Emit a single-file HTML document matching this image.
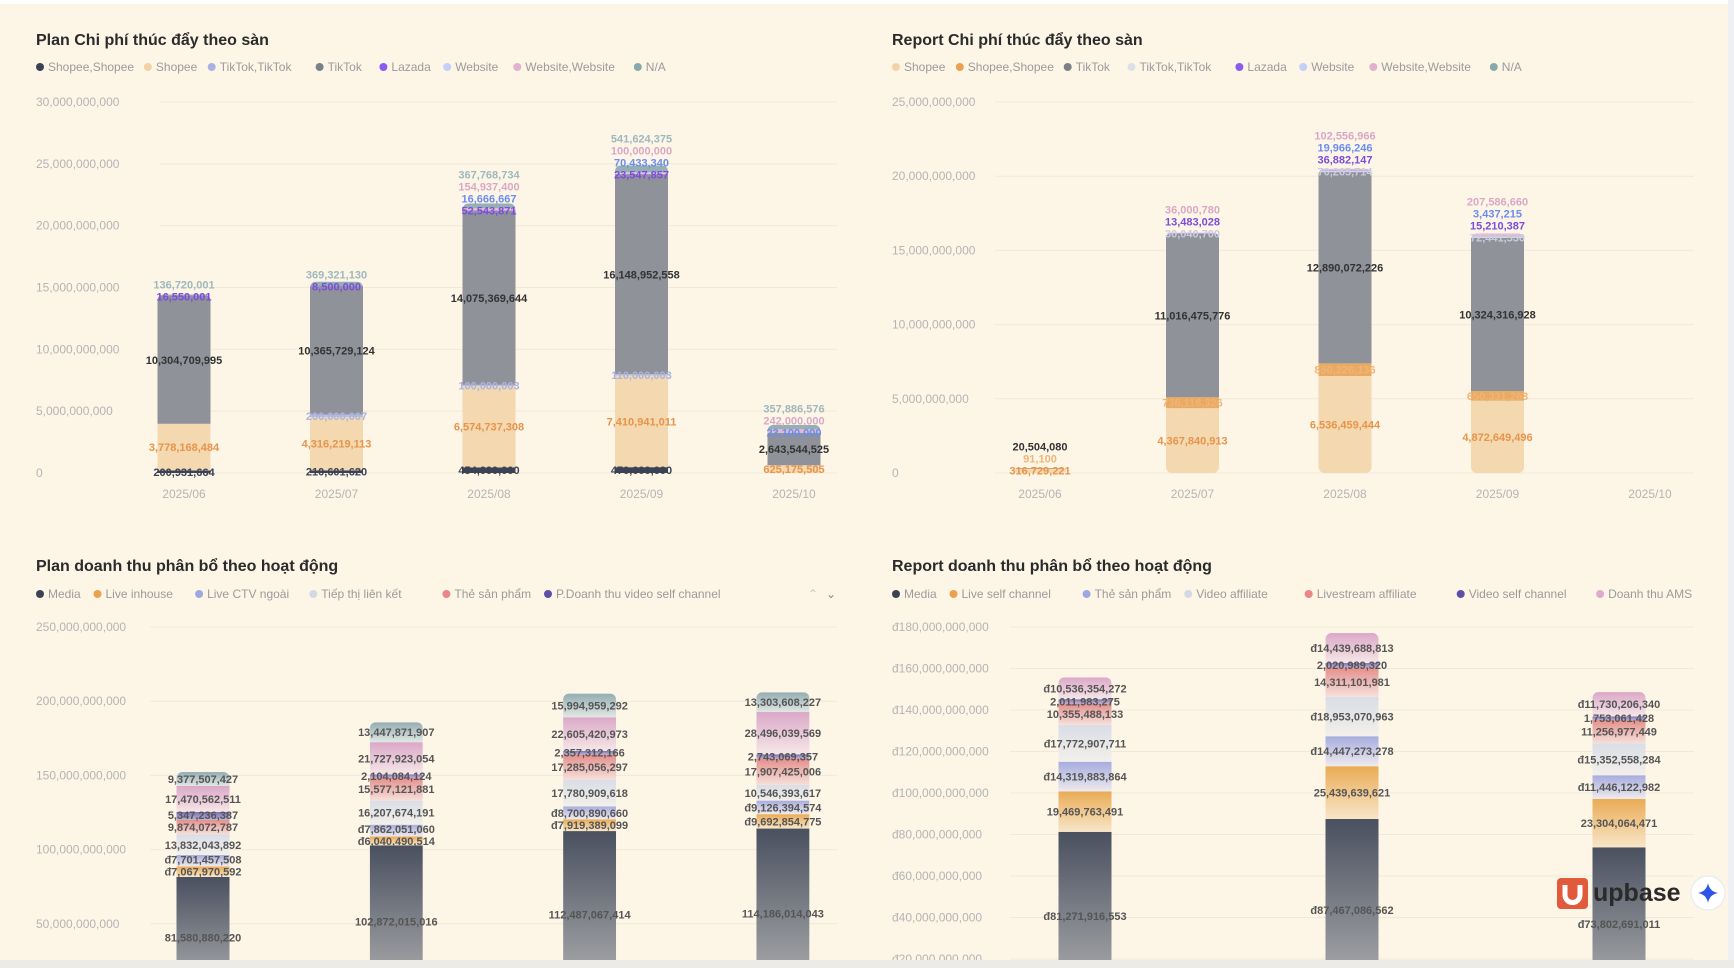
<!DOCTYPE html>
<html><head><meta charset="utf-8">
<style>
html,body{margin:0;padding:0;background:#fdf6e7;}
body{width:1734px;height:968px;overflow:hidden;position:relative;font-family:"Liberation Sans","Noto Sans CJK SC",sans-serif;}
svg{position:absolute;left:0;top:0;}
</style></head>
<body>
<svg id="chart" width="1734" height="968" viewBox="0 0 1734 968" xmlns="http://www.w3.org/2000/svg">
<defs id="defs"></defs>
<rect x="0" y="0" width="1734" height="968" fill="#fdf6e7"/>
<rect x="0" y="0" width="1734" height="4" fill="#ffffff"/>
<rect x="1728" y="0" width="6" height="968" fill="#eef0f4"/>
<g id="layer"></g>
<rect x="0" y="960" width="1734" height="8" fill="#ecebe8"/>
<g>
<rect x="1557" y="878" width="31" height="31" rx="4" fill="#e15a3c"/>
<path d="M1565 885 v10 a7.5 7.5 0 0 0 15 0 v-10" fill="none" stroke="#fff" stroke-width="5"/>
<text x="1593" y="901" font-size="25" font-weight="600" fill="#2a2a2a" font-family="Liberation Sans, sans-serif">upbase</text>
</g>
<g>
<circle cx="1708" cy="893" r="17" fill="#ffffff" stroke="#e6e8f0"/>
<path d="M1708 883 Q1709.5 891.5 1718 893 Q1709.5 894.5 1708 903 Q1706.5 894.5 1698 893 Q1706.5 891.5 1708 883 Z" fill="#2f55e8"/>
</g>
</svg>
<script>
// ---------- Chart 1: Plan Chi phí thúc đẩy theo sàn ----------
const pcCats = ["2025/06","2025/07","2025/08","2025/09","2025/10"];
const pcNames = ["Shopee,Shopee","Shopee","TikTok,TikTok","TikTok","Lazada","Website","Website,Website","N/A"];
const pcShopeeShopee = [200931664,210601620,454000000,470000000,0];
const pcShopee = [3778168484,4316219113,6574737308,7410941011,625175505];
const pcTikTokTikTok = [0,200000007,100000003,110000003,0];
const pcTikTok = [10304709995,10365729124,14075369644,16148952558,2643544525];
const pcLazada = [16550001,8500000,52543871,23547857,0];
const pcWebsite = [0,0,16666667,70433340,23100000];
const pcWebsiteWebsite = [0,0,154937400,100000000,242000000];
const pcNA = [136720001,369321130,367768734,541624375,357886576];
const pcTicks = [0,5e9,10e9,15e9,20e9,25e9,30e9];
const pcTickLabels = ["0","5,000,000,000","10,000,000,000","15,000,000,000","20,000,000,000","25,000,000,000","30,000,000,000"];

// ---------- Chart 2: Report Chi phí thúc đẩy theo sàn ----------
const rcCats = ["2025/06","2025/07","2025/08","2025/09","2025/10"];
const rcNames = ["Shopee","Shopee,Shopee","TikTok","TikTok,TikTok","Lazada","Website","Website,Website","N/A"];
const rcShopee = [316729221,4367840913,6536459444,4872649496,0];
const rcShopeeShopee = [91100,736118326,850226136,650331268,0];
const rcTikTok = [20504080,11016475776,12890072226,10324316928,0];
const rcTikTokTikTok = [0,30040700,70265714,72441530,0];
const rcLazada = [0,13483028,36882147,15210387,0];
const rcWebsite = [0,0,19966246,3437215,0];
const rcWebsiteWebsite = [0,36000780,102556966,207586660,0];
const rcNA = [0,0,0,0,0];
const rcTicks = [0,5e9,10e9,15e9,20e9,25e9];
const rcTickLabels = ["0","5,000,000,000","10,000,000,000","15,000,000,000","20,000,000,000","25,000,000,000"];

// ---------- Chart 3: Plan doanh thu phân bổ theo hoạt động ----------
const prCats = ["c1","c2","c3","c4"];
const prNames = ["Media","Live inhouse","Live CTV ngoài","Tiếp thị liên kết","Thẻ sản phẩm","P.Doanh thu video self channel"];
const prSeriesNames = ["Media","Live inhouse","Live CTV ngoài","Tiếp thị liên kết","Thẻ sản phẩm","P.Doanh thu video self channel","Doanh thu AMS","Khác"];
const prMedia = [81580880220,102872015016,112487067414,114186014043];
const prLiveInhouse = [7067970592,6040490514,7919389099,9692854775];
const prLiveCTV = [7701457508,7862051060,8700890660,9126394574];
const prTiepThi = [13832043892,16207674191,17780909618,10546393617];
const prThe = [9874072787,15577121881,17285056297,17907425006];
const prVideoSelf = [5347236387,2104084124,2357312166,2743069357];
const prAMS = [17470562511,21727923054,22605420973,28496039569];
const prOther = [9377507427,13447871907,15994959292,13303608227];
const prTicks = [50e9,100e9,150e9,200e9,250e9];
const prTickLabels = ["50,000,000,000","100,000,000,000","150,000,000,000","200,000,000,000","250,000,000,000"];

// ---------- Chart 4: Report doanh thu phân bổ theo hoạt động ----------
const rrCats = ["c1","c2","c3"];
const rrNames = ["Media","Live self channel","Thẻ sản phẩm","Video affiliate","Livestream affiliate","Video self channel","Doanh thu AMS"];
const rrMedia = [81271916553,87467086562,73802691011];
const rrLiveSelf = [19469763491,25439639621,23304064471];
const rrThe = [14319883864,14447273278,11446122982];
const rrVideoAff = [17772907711,18953070963,15352558284];
const rrLivestreamAff = [10355488133,14311101981,11256977449];
const rrVideoSelf = [2011983275,2020989320,1753061428];
const rrAMS = [10536354272,14439688813,11730206340];
const rrTicks = [20e9,40e9,60e9,80e9,100e9,120e9,140e9,160e9,180e9];
const rrTickLabels = ["đ20,000,000,000","đ40,000,000,000","đ60,000,000,000","đ80,000,000,000","đ100,000,000,000","đ120,000,000,000","đ140,000,000,000","đ160,000,000,000","đ180,000,000,000"];

const NS = "http://www.w3.org/2000/svg";
const layer = document.getElementById('layer');
const defs = document.getElementById('defs');
function mk(tag, attrs, parent){ const e=document.createElementNS(NS,tag); for(const k in attrs) e.setAttribute(k,attrs[k]); (parent||layer).appendChild(e); return e; }
function fmt(v){ return Math.round(v).toLocaleString('en-US'); }
let gid=0;

function legend(x, y, items, colors, g){
  let cx = x;
  items.forEach((name,i)=>{
    const it = mk('g',{},g);
    
    
    mk('circle',{cx:cx+4,cy:y-4,r:4,fill:colors[i]},it);
    const t = mk('text',{x:cx+12,y:y,'font-size':12,fill:'#9b9b9b'},it);
    t.textContent = name;
    cx += 12 + name.length*6.3 + 14;
  });
}

function drawChart(cfg){
  const g = mk('g',{});
  
  
  const title = mk('text',{x:cfg.tx,y:cfg.ty,'font-size':16,'font-weight':600,fill:'#2b2b2b'},g);
  
  
  title.textContent = cfg.title;
  const lg = mk('g',{},g);
  
  
  legend(cfg.tx, cfg.ly, cfg.names, cfg.legendColors, lg);
  const yS = v => cfg.y0 - v/cfg.vmax*(cfg.y0-cfg.ytop);
  cfg.ticks.forEach((t,i)=>{
    const yy = yS(t);
    const gl = mk('line',{x1:cfg.gx1,x2:cfg.gx2,y1:yy,y2:yy,stroke:'#f0e9d9','stroke-width':1},g);
    
    
    const tl = mk('text',{x:cfg.tx,y:yy+4,'font-size':12,fill:'#b4b4b4'},g);
    
    
    tl.textContent = cfg.tickLabels[i];
  });
  cfg.cats.forEach((cat,ci)=>{
    const cx = cfg.bx0 + cfg.bstep*ci;
    const bw = cfg.bw;
    const bg = mk('g',{},g);
    
    
    let total=0; cfg.series.forEach(s=>total+=s[ci]);
    const cid = 'clip'+(gid++);
    const cp = mk('clipPath',{id:cid},defs);
    mk('rect',{x:cx-bw/2,y:yS(total),width:bw,height:Math.max(0,yS(0)-yS(total)+(cfg.roundBottom?0:10)),rx:6},cp);
    const segs = mk('g',{'clip-path':'url(#'+cid+')'},bg);
    let acc=0; const labs=[];
    cfg.series.forEach((s,si)=>{
      const v=s[ci]; const y1=yS(acc), y2=yS(acc+v);
      let fill = cfg.colors[si];
      if(cfg.grad){
        const id='gr'+(gid++);
        const lgd = mk('linearGradient',{id:id,x1:0,y1:0,x2:0,y2:1},defs);
        mk('stop',{offset:'0','stop-color':cfg.colors[si]},lgd);
        mk('stop',{offset:'1','stop-color':cfg.grad[si]},lgd);
        fill='url(#'+id+')';
      }
      if(v>0){
        const r = mk('rect',{x:cx-bw/2,y:y2,width:bw,height:Math.max(0.5,y1-y2),fill:fill},segs);
        
        
        labs.push({y:(y1+y2)/2+4, text:(cfg.prefix?cfg.prefix[si]:'')+fmt(v), color:cfg.labelColors[si]});
      }
      acc+=v;
    });
    let prev = 1e9;
    labs.forEach(l=>{
      if(l.y > prev - cfg.minGap) l.y = prev - cfg.minGap;
      prev = l.y;
      const t = mk('text',{x:cx,y:l.y,'font-size':11,'font-weight':700,fill:l.color,'text-anchor':'middle'},bg);
      
      
      t.textContent = l.text;
    });
    if(cfg.xlab){
      const xl = mk('text',{x:cx,y:cfg.xlab,'font-size':12,fill:'#b4b4b4','text-anchor':'middle'},g);
      
      
      xl.textContent = cat;
    }
  });
}

drawChart({name:'plan-cost-chart',title:'Plan Chi phí thúc đẩy theo sàn',tx:36,ty:45,ly:71,
  names:pcNames,seriesNames:pcNames,cats:pcCats,
  series:[pcShopeeShopee,pcShopee,pcTikTokTikTok,pcTikTok,pcLazada,pcWebsite,pcWebsiteWebsite,pcNA],
  colors:['#3a4254','#f3d8b0','#b8c0e6','#8f9299','#8b5cf0','#c3cff7','#e5b8d2','#95b0b4'],
  legendColors:['#3a4254','#f3d3a6','#a9b3e3','#7d8088','#8b5cf0','#c3cff7','#e2b1cd','#8aa9ad'],
  labelColors:['#3a4254','#e8944a','#aab4e0','#333333','#7c4ddb','#6b8cf0','#dba7c7','#9fb8bd'],
  ticks:pcTicks,tickLabels:pcTickLabels,y0:473,ytop:102,vmax:30e9,gx1:160,gx2:837,bx0:184,bstep:152.5,bw:53,xlab:498,minGap:12});

drawChart({name:'report-cost-chart',title:'Report Chi phí thúc đẩy theo sàn',tx:892,ty:45,ly:71,
  names:rcNames,seriesNames:rcNames,cats:rcCats,
  series:[rcShopee,rcShopeeShopee,rcTikTok,rcTikTokTikTok,rcLazada,rcWebsite,rcWebsiteWebsite,rcNA],
  colors:['#f3d8b0','#e9ab60','#8f9299','#dcdfe8','#8b5cf0','#c3cff7','#e5b8d2','#95b0b4'],
  legendColors:['#f3d3a6','#eba24f','#7d8088','#dcdfe8','#8b5cf0','#c3cff7','#e2b1cd','#8aa9ad'],
  labelColors:['#e8944a','#f0b47a','#333333','#c9cde0','#7c4ddb','#6b8cf0','#dba7c7','#9fb8bd'],
  ticks:rcTicks,tickLabels:rcTickLabels,y0:473,ytop:102,vmax:25e9,gx1:995,gx2:1694,bx0:1040,bstep:152.5,bw:53,xlab:498,minGap:12,roundBottom:true});

drawChart({name:'plan-revenue-chart',title:'Plan doanh thu phân bổ theo hoạt động',tx:36,ty:571,ly:598,
  names:prNames,seriesNames:prSeriesNames,cats:prCats,
  series:[prMedia,prLiveInhouse,prLiveCTV,prTiepThi,prThe,prVideoSelf,prAMS,prOther],
  colors:['#49505f','#eaab55','#a6acde','#d9dde6','#e48f8c','#7b6fb4','#dba8c8','#93adb2'],
  grad:['#b3b3b3','#f7e6c8','#efebee','#f3f0ea','#f6e0da','#b9b1d6','#f5e7e7','#e1e8e2'],
  legendColors:['#3a4254','#eba24f','#9ea7e0','#d2d9e6','#e98686','#5d4ea8'],
  labelColors:['#555555','#555555','#555555','#555555','#555555','#555555','#555555','#555555'],
  prefix:['','đ','đ','','','','',''],
  ticks:prTicks,tickLabels:prTickLabels,y0:998,ytop:627,vmax:250e9,gx1:150,gx2:837,bx0:203,bstep:193.3,bw:53,minGap:12});

drawChart({name:'report-revenue-chart',title:'Report doanh thu phân bổ theo hoạt động',tx:892,ty:571,ly:598,
  names:rrNames,seriesNames:rrNames,cats:rrCats,
  series:[rrMedia,rrLiveSelf,rrThe,rrVideoAff,rrLivestreamAff,rrVideoSelf,rrAMS],
  colors:['#49505f','#eaab55','#a6acde','#d9dde6','#e48f8c','#7b6fb4','#dba8c8'],
  grad:['#b3b3b3','#f7e6c8','#efebee','#f3f0ea','#f6e0da','#b9b1d6','#f5e7e7'],
  legendColors:['#3a4254','#eba24f','#9ea7e0','#d2d9e6','#e98686','#5d4ea8','#e2a9cf'],
  labelColors:['#555555','#555555','#555555','#555555','#555555','#555555','#555555'],
  prefix:['đ','','đ','đ','','','đ'],
  ticks:rrTicks,tickLabels:rrTickLabels,y0:1000.5,ytop:627,vmax:180e9,gx1:1010,gx2:1694,bx0:1085,bstep:267,bw:53,minGap:12});

const ch1 = mk('text',{x:808,y:598,'font-size':12,fill:'#c8c8c8'}); ch1.textContent='⌃';


const ch2 = mk('text',{x:826,y:598,'font-size':12,fill:'#888888'}); ch2.textContent='⌄';


</script>
</body></html>
